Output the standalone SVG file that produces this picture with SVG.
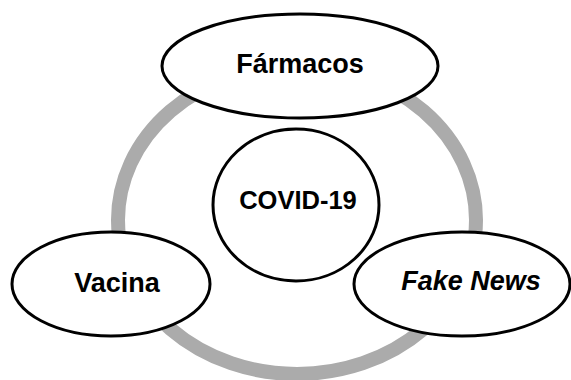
<svg xmlns="http://www.w3.org/2000/svg" width="571" height="380" viewBox="0 0 571 380">
<style>
.node{fill:#fff;stroke:#000;stroke-width:3}
.lbl{font-family:"Liberation Sans",Arial,sans-serif;font-weight:bold;font-size:27px;fill:#000;text-anchor:middle}
.ring{fill:none;stroke:#ababab;stroke-width:14}
</style>
<rect width="571" height="380" fill="#fff"/>
<g id="connectors">
<ellipse class="ring" cx="297" cy="220" rx="179" ry="154"/>
</g>
<g id="farmacos">
<ellipse class="node" cx="300" cy="66" rx="138" ry="52"/>
<text class="lbl" x="300" y="73">Fármacos</text>
</g>
<g id="covid">
<ellipse class="node" cx="296" cy="205" rx="83" ry="76"/>
<text class="lbl" x="298" y="209" style="font-size:25.5px">COVID-19</text>
</g>
<g id="vacina">
<ellipse class="node" cx="111" cy="284" rx="99" ry="52"/>
<text class="lbl" x="117" y="292">Vacina</text>
</g>
<g id="fakenews">
<ellipse class="node" cx="462" cy="284" rx="108" ry="52"/>
<text class="lbl" x="471" y="290" font-style="italic">Fake News</text>
</g>
</svg>
